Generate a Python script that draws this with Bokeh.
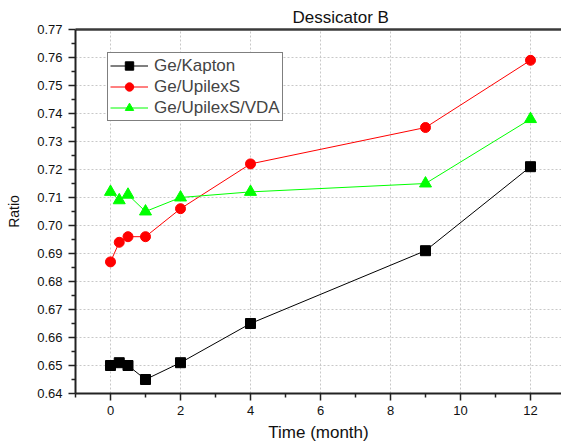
from bokeh.plotting import figure
from bokeh.models import (Range1d, FixedTicker, LinearAxis, NumeralTickFormatter, Legend)
from bokeh.embed import file_html
from bokeh.resources import INLINE

time = [0, 0.25, 0.5, 1, 2, 4, 9, 12]
kapton = [0.650, 0.651, 0.650, 0.645, 0.651, 0.665, 0.691, 0.721]
upilex = [0.687, 0.694, 0.696, 0.696, 0.706, 0.722, 0.735, 0.759]
vda = [0.712, 0.709, 0.711, 0.705, 0.710, 0.712, 0.715, 0.738]
x_ticks = [0, 2, 4, 6, 8, 10, 12]
x_minor = [-1, 1, 3, 5, 7, 9, 11, 13]
y_ticks = [0.64, 0.65, 0.66, 0.67, 0.68, 0.69, 0.70, 0.71, 0.72, 0.73, 0.74, 0.75, 0.76, 0.77]
y_minor = [0.645, 0.655, 0.665, 0.675, 0.685, 0.695, 0.705, 0.715, 0.725, 0.735, 0.745, 0.755, 0.765]

FONT = "Liberation Sans"

p = figure(width=561, height=448, output_backend="svg", toolbar_location=None,
           x_range=Range1d(-1, 12.886), y_range=Range1d(0.64, 0.77),
           min_border_left=75, min_border_right=0, min_border_top=29, min_border_bottom=55)
p.outline_line_color = None
p.background_fill_color = "white"
p.border_fill_color = "white"

# title
p.title.text = "Dessicator B"
p.title.text_font = FONT
p.title.text_font_size = "17px"
p.title.text_font_style = "normal"
p.title.text_color = "#111111"
p.title.align = "left"
p.title.offset = 217
p.title.standoff = 5

# axes
p.xaxis.ticker = FixedTicker(ticks=x_ticks, minor_ticks=x_minor)
p.yaxis.ticker = FixedTicker(ticks=y_ticks, minor_ticks=y_minor)
p.yaxis.formatter = NumeralTickFormatter(format="0.00")
for ax in (p.xaxis[0], p.yaxis[0]):
    ax.axis_line_color = "#222222"
    ax.axis_line_width = 2
    ax.major_tick_line_color = "#222222"
    ax.minor_tick_line_color = "#222222"
    ax.major_tick_line_width = 1.5
    ax.minor_tick_line_width = 1.5
    ax.major_tick_out = 7
    ax.major_tick_in = 0
    ax.minor_tick_out = 4
    ax.minor_tick_in = 0
    ax.major_label_text_font = FONT
    ax.major_label_text_font_size = "13px"
    ax.major_label_text_color = "#111111"
    ax.axis_label_text_font = FONT
    ax.axis_label_text_font_style = "normal"
    ax.axis_label_text_color = "#111111"
p.xaxis.axis_label = "Time (month)"
p.yaxis.axis_label = "Ratio"
p.xaxis.axis_label_text_font_size = "17px"
p.yaxis.axis_label_text_font_size = "14px"
p.xaxis.major_label_standoff = 5
p.xaxis.axis_label_standoff = 5
p.yaxis.major_label_standoff = 6
p.yaxis.axis_label_standoff = 12

top = LinearAxis(major_label_text_font_size="0px", major_label_text_alpha=0,
                 major_tick_out=0, major_tick_in=0,
                 minor_tick_out=0, minor_tick_in=0, major_label_standoff=0,
                 major_tick_line_color=None, minor_tick_line_color=None,
                 axis_line_color="#3a3a3a", axis_line_width=2.5,
                 ticker=FixedTicker(ticks=x_ticks))
p.add_layout(top, "above")

# grid
for g in (p.xgrid[0], p.ygrid[0]):
    g.grid_line_color = "#c8c8c8"
    g.grid_line_dash = "2 2"
    g.grid_line_width = 1

# series
r1 = p.line(time, kapton, color="black", line_width=1)
s1 = p.scatter(time, kapton, marker="square", size=10, color="black")
r2 = p.line(time, upilex, color="#ff0000", line_width=1)
s2 = p.scatter(time, upilex, marker="circle", size=10, color="#ff0000")
r3 = p.line(time, vda, color="#00ff00", line_width=1)
s3 = p.scatter(time, vda, marker="triangle", size=12, color="#00ff00")

legend = Legend(items=[("Ge/Kapton", [r1, s1]), ("Ge/UpilexS", [r2, s2]),
                       ("Ge/UpilexS/VDA", [r3, s3])],
                location=(32, 272))
legend.label_text_font = FONT
legend.label_text_font_size = "17px"
legend.label_height = 21
legend.glyph_height = 21
legend.glyph_width = 38
legend.label_standoff = 6
legend.spacing = 0
legend.padding = 2
legend.margin = 0
legend.border_line_color = "black"
legend.border_line_width = 1
legend.background_fill_alpha = 1
p.add_layout(legend, "center")

open("out.html", "w").write(file_html(p, INLINE))
